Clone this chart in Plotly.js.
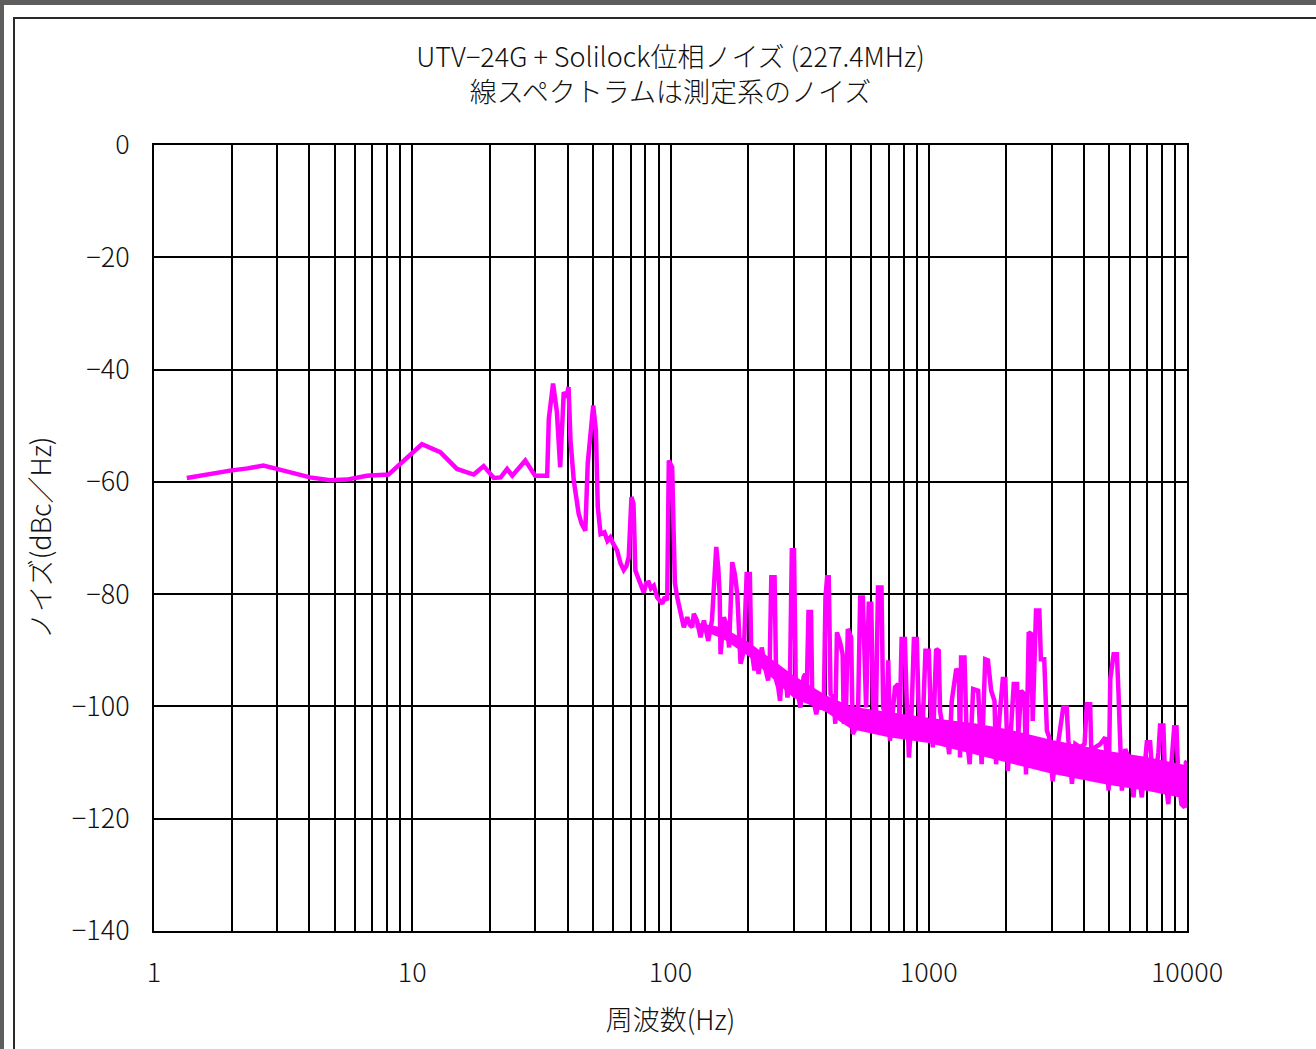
<!DOCTYPE html>
<html>
<head>
<meta charset="utf-8">
<script src="https://cdn.plot.ly/plotly-3.0.1.min.js"></script>
<style>
  html, body { margin: 0; padding: 0; }
  body { width: 1316px; height: 1049px; background: #5f5e5d; position: relative; overflow: hidden; }
  #sheet { position: absolute; left: 4px; top: 5px; width: 1312px; height: 1044px; background: #ffffff; }
  #frame { position: absolute; left: 13px; top: 17px; width: 1320px; height: 1060px;
           border-left: 2px solid #2a2a2a; border-top: 2px solid #2a2a2a; }
  #chart { position: absolute; left: 0; top: 0; width: 1316px; height: 1049px; }
</style>
</head>
<body>
<div id="sheet"></div>
<div id="frame"></div>
<div id="chart"></div>
<script>
// ---- Data ----
const freqHz = [
  1.34, 1.5, 1.7, 1.97, 2.3, 2.65, 2.99, 3.5, 4.02, 4.81, 5.58, 6.67, 8.09,
  10.9, 12.84, 14.9, 16.5, 17.3, 18.9, 20.7, 22.0, 23.3, 24.4, 27.4, 29.9, 33.3,
  33.8, 35.1, 36.3, 37.4, 38.6, 39.5, 40.3, 41.0, 42.2, 43.0, 44.1, 45.3, 46.8,
  47.8, 49.0, 50.2, 51.4, 52.3, 53.6, 55.5, 57.0, 58.5, 60.0, 62.1, 64.0, 65.9,
  67.5, 68.9, 70.6, 71.9, 73.1, 76.5, 78.8, 80.5, 82.4, 84.0, 86.2, 88.8, 92.9,
  95.0, 97.1, 98.5, 100.0, 101.5, 102.8, 104.0, 106.2,
  109.3, 112.6, 116.1, 119, 121.4, 123.1, 126.6, 130.7, 134.7, 137, 140, 144.7,
  147.2, 150.4, 153, 155, 156.2, 160.9, 165.9, 168.6, 173.4, 177.4, 181.4, 186.7,
  192.3, 197.2, 202.9, 205.3, 211.4, 215, 219.4, 225.6, 232.1, 238.8, 242, 245.7,
  252.9, 256.6, 261, 265.6, 270.2, 278.1, 283.7, 290, 295, 300.8, 305.4, 312,
  318.4, 327.6, 332.3, 337, 342.2, 350, 353.6, 360, 366.8, 375, 385, 392.8, 398.1,
  404, 410, 416.6, 428, 434.5, 441, 453.6, 464, 469, 478, 486, 500.7, 507.8, 523,
  532, 542.6, 555.6, 563.8, 572, 585.8, 599, 607.8, 622.8, 636, 656, 666, 686.5,
  697, 707.7, 722, 740, 762, 772, 785, 808, 820, 838, 856, 876, 899, 912, 934.5,
  950, 971, 1000, 1015, 1037, 1068, 1093, 1106, 1135, 1165, 1200, 1228, 1278,
  1308, 1322, 1334, 1375, 1403, 1440, 1486, 1554, 1603, 1654, 1695, 1745, 1797,
  1823, 1878, 1935, 1980, 2024, 2084, 2134, 2198, 2223, 2279, 2347, 2380, 2438,
  2490, 2527, 2602, 2680, 2718, 2800, 2867, 2927, 3017, 3159, 3317, 3421, 3474,
  3585, 3695, 3860, 4011, 4093, 4217, 4283, 4412, 4614, 4825, 4972, 5046, 5198,
  5353, 5432, 5596, 5763, 6027, 6206, 6392, 6684, 6990, 7198, 7413, 7751, 7866,
  8100, 8220, 8466, 8718, 8922, 9106, 9242, 9517, 9801, 9900, 10000
];
const noiseDbc = [
  -59.3, -58.9, -58.5, -58.0, -57.6, -57.1, -57.7, -58.5, -59.2, -59.7, -59.6, -58.9, -58.7,
  -53.3, -54.7, -57.7, -58.5, -58.7, -57.2, -59.3, -59.2, -57.7, -58.9, -56.2, -58.9, -58.9,
  -48.7, -42.5, -47.5, -57.4, -44.0, -45.0, -43.1, -52.6, -59.7, -63.0, -65.7, -67.5, -68.7,
  -56.8, -50.5, -46.4, -50.8, -64.5, -69.3, -69.0, -70.5, -69.9, -71.0, -72.2, -74.5, -75.7,
  -75.0, -73.4, -62.7, -63.9, -75.8, -78.2, -79.7, -78.0, -77.9, -79.0, -78.5, -80.6, -81.7,
  -80.5, -81.1, -56.2, -57.0, -57.4, -68.7, -78.0, -80.6,
  -82.9, -85.9, -84.1, -85.5, -85.9, -83.5, -84.7, -87.7, -84.7, -86.5, -88.3, -84.7,
  -77.6, -71.6, -75.2, -80.0, -90.7, -84.1, -85.9, -89.5, -74.3, -76.4, -80.0, -92.4,
  -90.1, -76.4, -76.4, -89.5, -93.6, -91.5, -94.2, -89.5, -93.0, -95.4, -93.0, -77.0,
  -77.0, -95.4, -96.5, -99.0, -93.6, -94.2, -98.4, -96.0, -72.2, -72.2, -95.4, -98.5,
  -100.2, -94.8, -94.2, -97.0, -83.2, -83.2, -97.2, -99.5, -101.4, -99.0, -100.5, -98.4, -80.6,
  -77.0, -77.0, -97.8, -98.4, -103.1, -86.8, -88.6, -90.7, -103.1, -101.0, -86.2, -87.7, -104.9, -103.7,
  -101.5, -80.6, -80.6, -93.6, -100.2, -81.7, -81.7, -99.0, -104.9, -78.8, -78.8, -100.2, -102.0,
  -91.8, -106.1, -102.0, -96.6, -96.0, -103.0, -88.0, -88.0, -97.8, -109.1, -102.6, -88.0, -88.0, -99.0, -105.5,
  -102.0, -90.1, -90.1, -99.0, -107.3, -89.8, -90.1, -100.8, -104.0, -103.7, -108.5, -99.0, -93.3,
  -94.2, -109.1, -91.3, -91.3, -105.5, -110.3, -96.9, -97.2, -110.3, -91.6, -91.8, -97.2, -99.0,
  -110.3, -102.0, -95.1, -95.1, -111.5, -103.7, -96.0, -96.0, -104.9, -97.2, -97.8, -112.1, -86.8,
  -87.1, -102.6, -82.9, -82.9, -91.6, -91.6, -104.3, -105.5, -113.3, -106.7, -100.2, -100.2, -106.1,
  -113.8, -106.7, -107.3, -106.7, -99.6, -99.6, -112.7, -107.3, -106.7, -105.5, -115.0, -95.1, -90.7,
  -90.7, -97.8, -115.0, -107.6, -109.7, -116.2, -109.1, -116.2, -106.4, -106.4, -115.0, -108.2, -103.4,
  -103.4, -112.7, -117.4, -108.2, -103.7, -103.7, -112.1, -117.4, -118.0, -110.0, -109.7
];
// dense noise floor band (upper / lower edge of the solid region)
const bandFreq  = [125, 160, 200, 300, 400, 500, 700, 1000, 1500, 2000, 3000, 5000, 7000, 10000];
const bandUpper = [-85.0, -86.0, -88.5, -94.5, -98.0, -100.0, -101.0, -102.0, -103.0, -104.0, -106.0, -108.0, -109.0, -110.5];
const bandLower = [-86.0, -88.0, -91.0, -98.5, -101.0, -104.0, -105.5, -106.5, -108.5, -110.0, -112.0, -114.0, -115.0, -116.5];

const xDecadeLabels = ['1', '10', '100', '1000', '10000'];
const yTickValues = [0, -20, -40, -60, -80, -100, -120, -140];

const titleText = 'UTV−24G + Solilock位相ノイズ (227.4MHz)<br>線スペクトラムは測定系のノイズ';
const xTitle = '周波数(Hz)';
const yTitle = 'ノイズ(dBc／Hz)';

// ---- grid ticks for the log axis (1..9 per decade) ----
const xTickVals = [], xTickText = [];
xDecadeLabels.forEach((lab, i) => {
  const base = Number(lab);
  const maxM = (i === xDecadeLabels.length - 1) ? 1 : 9;
  for (let m = 1; m <= maxM; m++) {
    xTickVals.push(base * m);
    xTickText.push(m === 1 ? lab : '');
  }
});

const MAG = '#ff00ff';
const FONT = '"Noto Sans CJK JP", "Noto Sans", sans-serif';
const TXT = { family: FONT, size: 27, color: '#111111', weight: 300 };

const traces = [
  { x: bandFreq, y: bandUpper, mode: 'lines', line: { width: 0, color: MAG },
    hoverinfo: 'skip', showlegend: false },
  { x: bandFreq, y: bandLower, mode: 'lines', line: { width: 0, color: MAG },
    fill: 'tonexty', fillcolor: MAG, hoverinfo: 'skip', showlegend: false },
  { x: freqHz, y: noiseDbc, mode: 'lines', line: { width: 4.5, color: MAG },
    showlegend: false }
];

const layout = {
  width: 1316, height: 1049,
  paper_bgcolor: 'rgba(0,0,0,0)', plot_bgcolor: '#ffffff',
  margin: { l: 154, r: 129, t: 145, b: 118 },
  font: TXT,
  title: { text: titleText, x: 0.5095, xanchor: 'center', y: 0.936, yanchor: 'middle', font: TXT },
  showlegend: false,
  xaxis: {
    type: 'log', range: [0, 4], tickmode: 'array', tickvals: xTickVals, ticktext: xTickText,
    showgrid: true, gridcolor: '#000000', gridwidth: 2,
    showline: true, linecolor: '#000000', linewidth: 2, mirror: true,
    ticks: '', zeroline: false, ticklabelstandoff: 17,
    tickfont: TXT,
    title: { text: xTitle, font: TXT, standoff: 22 }
  },
  yaxis: {
    range: [-140, 0], tickmode: 'array', tickvals: yTickValues,
    showgrid: true, gridcolor: '#000000', gridwidth: 2,
    showline: true, linecolor: '#000000', linewidth: 2, mirror: true,
    ticks: '', zeroline: false, ticklabelstandoff: 17,
    tickfont: TXT,
    title: { text: yTitle, font: TXT, standoff: 12 }
  }
};

Plotly.newPlot('chart', traces, layout, { staticPlot: true, displayModeBar: false });
</script>
</body>
</html>
